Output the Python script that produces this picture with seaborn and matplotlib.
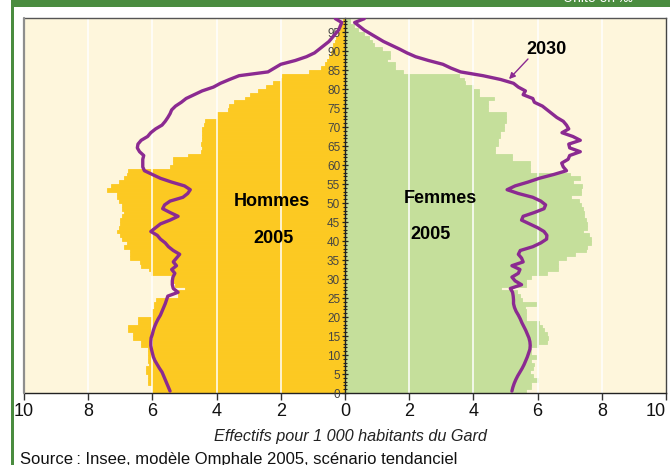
import numpy as np
import pandas as pd
import matplotlib
matplotlib.use("Agg")
import matplotlib.pyplot as plt
from matplotlib.patches import Rectangle
from matplotlib.ticker import MultipleLocator, FixedLocator, FixedFormatter
import seaborn as sns

# ---------------- data (per 1 000 inhabitants, ages 0..98) ----------------
ages = list(range(99))

hommes_2005 = [
    6.0, 6.0, 6.15, 6.15, 6.15, 6.2, 6.2, 6.1, 6.15, 6.15,
    6.15, 6.15, 6.35, 6.35, 6.6, 6.6, 6.75, 6.75, 6.45, 6.45,
    6.0, 6.0, 5.95, 5.95, 5.9, 5.2, 5.2, 5.0, 5.3, 5.35,
    5.4, 6.05, 6.1, 6.35, 6.4, 6.7, 6.7, 6.7, 6.9, 6.8,
    6.95, 7.0, 7.1, 7.05, 7.0, 7.0, 6.95, 6.9, 6.95, 6.95,
    7.05, 7.1, 7.1, 7.4, 7.3, 7.05, 6.9, 6.8, 6.75, 5.45,
    5.35, 5.35, 4.9, 4.5, 4.45, 4.5, 4.45, 4.45, 4.45, 4.45,
    4.4, 4.35, 4.0, 4.0, 3.65, 3.6, 3.45, 3.1, 2.95, 2.7,
    2.45, 2.25, 2.0, 1.95, 1.13, 0.76, 0.62, 0.55, 0.5, 0.45,
    0.42, 0.38, 0.32, 0.28, 0.22, 0.17, 0.12, 0.08, 0.05,
]

femmes_2005 = [
    5.65, 5.8, 5.8, 6.0, 5.85, 5.75, 5.85, 5.9, 5.8, 5.95,
    5.8, 5.8, 6.0, 6.3, 6.33, 6.3, 6.2, 6.15, 6.05, 5.65,
    5.65, 5.65, 5.6, 5.95, 5.5, 5.45, 5.35, 4.85, 5.65, 5.65,
    5.8, 6.3, 6.65, 6.65, 6.65, 6.9, 7.15, 7.5, 7.55, 7.65,
    7.65, 7.6, 7.4, 7.55, 7.55, 7.5, 7.45, 7.45, 7.4, 7.35,
    7.3, 7.05, 7.35, 7.35, 7.38, 7.1, 7.33, 7.02, 5.77, 5.77,
    5.77, 5.2, 5.2, 4.68, 4.68, 4.78, 4.78, 4.84, 4.84, 4.94,
    4.94, 5.0, 5.0, 5.0, 4.47, 4.47, 4.47, 4.63, 4.16, 4.16,
    4.0, 3.75, 3.7, 3.54, 1.8, 1.57, 1.57, 1.3, 1.41, 1.41,
    1.15, 0.9, 0.84, 0.74, 0.58, 0.42, 0.27, 0.16, 0.16,
]

hommes_2030 = [
    5.45, 5.5, 5.55, 5.6, 5.65, 5.7, 5.78, 5.85, 5.92, 5.97,
    6.0, 6.03, 6.05, 6.05, 6.04, 6.0, 5.97, 5.93, 5.88, 5.82,
    5.75, 5.7, 5.65, 5.6, 5.56, 5.52, 5.2, 5.35, 5.38, 5.38,
    5.36, 5.3, 5.4, 5.25, 5.35, 5.25, 5.15, 5.35, 5.5, 5.6,
    5.75, 5.85, 6.05, 5.9, 5.75, 5.45, 5.2, 5.45, 5.68, 5.62,
    5.45, 5.05, 4.9, 4.82, 5.0, 5.4, 5.75, 6.0, 6.25, 6.3,
    6.3, 6.3, 6.27, 6.4, 6.47, 6.45, 6.35, 6.15, 6.05, 5.9,
    5.7, 5.6, 5.52, 5.45, 5.4, 5.28, 5.1, 4.95, 4.7, 4.45,
    4.1, 3.88, 3.6, 3.3, 2.4, 2.2, 2.0, 1.55, 1.2, 0.95,
    0.8, 0.65, 0.5, 0.4, 0.3, 0.2, 0.15, 0.1, 0.3,
]

femmes_2030 = [
    5.2, 5.23, 5.27, 5.32, 5.38, 5.45, 5.52, 5.58, 5.63, 5.68,
    5.72, 5.76, 5.77, 5.76, 5.73, 5.68, 5.63, 5.57, 5.51, 5.46,
    5.4, 5.33, 5.28, 5.25, 5.25, 5.24, 5.22, 5.15, 5.5, 5.3,
    5.2, 5.4, 5.45, 5.2, 5.55, 5.5, 5.4, 5.46, 5.85, 6.1,
    6.28, 6.29, 6.2, 6.0, 5.75, 5.5, 5.55, 5.9, 6.2, 6.25,
    6.1, 5.85, 5.4, 5.05, 5.3, 5.7, 6.05, 6.5, 6.9, 6.8,
    6.75, 6.95, 7.0, 7.33, 7.0, 6.97, 7.33, 7.1, 6.76, 6.97,
    6.9, 6.8, 6.6, 6.45, 6.3, 6.15, 5.9, 5.85, 5.55, 5.62,
    5.4, 5.25, 4.85, 4.3, 3.6, 3.3, 3.05, 2.6, 2.2, 1.93,
    1.7, 1.45, 1.2, 1.0, 0.8, 0.6, 0.45, 0.3, 0.6,
]

x_ticks = [-10, -8, -6, -4, -2, 0, 2, 4, 6, 8, 10]
x_tick_labels = ["10", "8", "6", "4", "2", "0", "2", "4", "6", "8", "10"]

# ---------------- style ----------------
YELLOW = "#FCC922"
GREEN = "#C5DF9B"
CREAM = "#FEF6DC"
PURPLE = "#8B2A91"
FRAME_GREEN = "#4A8C3F"

sns.set_theme(style="white")
plt.rcParams["font.family"] = ["Liberation Sans", "DejaVu Sans"]

W, H = 670, 465
fig = plt.figure(figsize=(W / 100, H / 100), dpi=100)
fig.patch.set_facecolor("white")

# page decorations (green band and left rule)
fig.add_artist(Rectangle((11 / W, 1 - 7 / H), (W - 11) / W, 7 / H,
                         transform=fig.transFigure, color=FRAME_GREEN, lw=0))
fig.add_artist(Rectangle((11 / W, 0), 2.5 / W, 1,
                         transform=fig.transFigure, color=FRAME_GREEN, lw=0))
fig.text(563 / W, 1 - 2.5 / H, "Unité en ‰", color="white", fontsize=10,
         ha="left", va="baseline")

L, R, T, B = 24, 666, 17.5, 393
ax = fig.add_axes([L / W, 1 - B / H, (R - L) / W, (B - T) / H])
ax.set_facecolor(CREAM)
ax.set_axisbelow(False)

df = pd.DataFrame({
    "age": np.array(ages) + 0.5,
    "hommes": -np.array(hommes_2005),
    "femmes": np.array(femmes_2005),
    "hommes_2030": -np.array(hommes_2030),
    "femmes_2030": np.array(femmes_2030),
})

sns.barplot(data=df, x="hommes", y="age", orient="h", native_scale=True,
            width=1, color=YELLOW, saturation=1, errorbar=None,
            linewidth=0.6, edgecolor=YELLOW, ax=ax, zorder=1)
sns.barplot(data=df, x="femmes", y="age", orient="h", native_scale=True,
            width=1, color=GREEN, saturation=1, errorbar=None,
            linewidth=0.6, edgecolor=GREEN, ax=ax, zorder=1)

for v in [-8, -6, -4, -2, 2, 4, 6, 8]:
    ax.axvline(v, color="white", lw=1.1, zorder=2)

sns.lineplot(data=df, x="hommes_2030", y="age", orient="y", estimator=None,
             color=PURPLE, lw=2.4, ax=ax, zorder=4)
sns.lineplot(data=df, x="femmes_2030", y="age", orient="y", estimator=None,
             color=PURPLE, lw=2.4, ax=ax, zorder=4)

ax.set_xlim(-10, 10)
ax.set_ylim(0, (B - T) / 3.8)

# central age axis
ax.spines["left"].set_position(("data", 0))
ax.spines["left"].set_color("#222222")
ax.spines["left"].set_linewidth(1.0)
ax.spines["top"].set_color("#555555")
ax.spines["top"].set_linewidth(1.0)
ax.spines["right"].set_color("#444444")
ax.spines["right"].set_linewidth(1.0)
ax.spines["bottom"].set_color("#222222")
ax.spines["bottom"].set_linewidth(1.0)
ax.axvline(-10, color="#8E8E8E", lw=1.6, zorder=5, clip_on=False)

ax.yaxis.set_major_locator(MultipleLocator(5))
ax.yaxis.set_minor_locator(MultipleLocator(1))
ax.tick_params(axis="y", which="major", direction="inout", length=5, width=0.9,
               color="#222222", labelsize=8.5, labelcolor="#444444", pad=1, left=True)
ax.tick_params(axis="y", which="minor", direction="inout", length=3.5, width=0.8,
               color="#222222", left=True)
ax.set_ylabel("")

ax.xaxis.set_major_locator(FixedLocator(x_ticks))
ax.xaxis.set_major_formatter(FixedFormatter(x_tick_labels))
ax.tick_params(axis="x", which="major", direction="out", length=5, width=1,
               color="#333333", labelsize=13, labelcolor="#111111", pad=2, bottom=True)
ax.set_xlabel("Effectifs pour 1 000 habitants du Gard", fontsize=11.7,
              style="italic", color="#222222")
ax.xaxis.set_label_coords(0.508, (B - 436) / (B - T))
ax.xaxis.label.set_va("center")

fig.canvas.draw()
xt_labels = ax.get_xticklabels()
xt_labels[-1].set_ha("right")
xt_labels[-1].set_x(10)

# annotations
kw = dict(ha="center", va="center", fontsize=13, fontweight="bold", color="black", zorder=6)
ax.text(-2.29, 50.3, "Hommes", **kw)
ax.text(-2.23, 40.6, "2005", **kw)
ax.text(2.96, 51.1, "Femmes", **kw)
ax.text(2.65, 41.7, "2005", **kw)
ax.text(6.29, 90.3, "2030", **kw)
ax.annotate("", xy=(5.11, 82.6), xytext=(5.70, 87.9),
            arrowprops=dict(arrowstyle="-|>", color=PURPLE, lw=1.0,
                            mutation_scale=9, shrinkA=0, shrinkB=0), zorder=6)

fig.text(20 / W, 1 - 459 / H,
         "Source\u202f: Insee, modèle Omphale 2005, scénario tendanciel",
         fontsize=12, color="#111111", ha="left", va="center")

fig.savefig("out.png", dpi=100, facecolor="white")
